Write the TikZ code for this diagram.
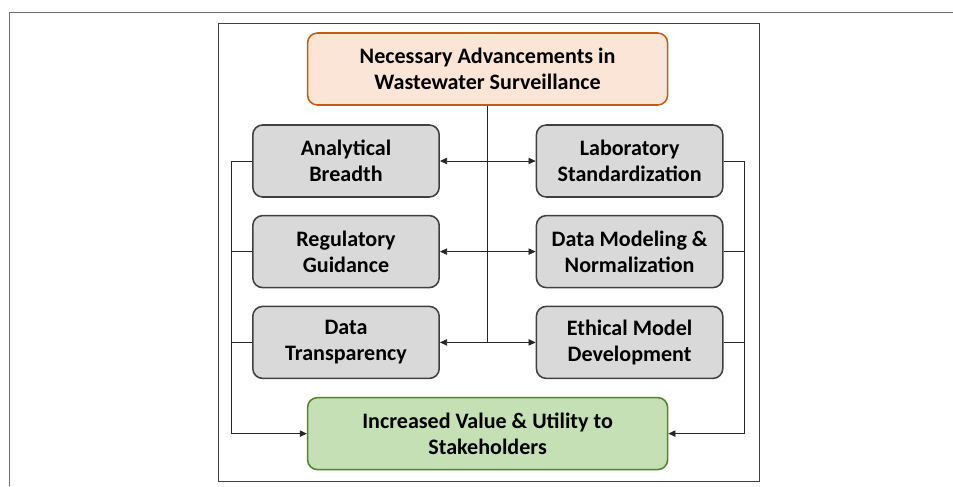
\documentclass[tikz,border=0pt]{standalone}
\usepackage{fontspec}
\setmainfont{Carlito}
\usepackage{tikz}
\usetikzlibrary{arrows.meta,positioning,calc}
\definecolor{SourceFill}{HTML}{FBE5D6}
\definecolor{SourceLine}{HTML}{C55A11}
\definecolor{TopicFill}{HTML}{D9D9D9}
\definecolor{TopicLine}{HTML}{404040}
\definecolor{GoalFill}{HTML}{C5E0B4}
\definecolor{GoalLine}{HTML}{548235}
\definecolor{FrameGray}{HTML}{6E6E6E}

\begin{document}
\begin{tikzpicture}[
    nd/.style={rectangle,rounded corners=7pt,draw=TopicLine,fill=TopicFill,line width=1.1pt,
      font=\fontsize{15.7}{18.6}\selectfont\bfseries,align=center,
      minimum width=4.66cm,minimum height=1.8cm,inner sep=2pt},
    src/.style={nd,draw=SourceLine,fill=SourceFill,minimum width=9cm},
    goal/.style={nd,draw=GoalLine,fill=GoalFill,minimum width=9cm},
    link/.style={line width=0.5pt,draw=black!85},
    >={Triangle[length=5pt,width=4.5pt]},
  ]
  \useasboundingbox (0,0) rectangle (23.825,-12.15);
  % Page frame
  \draw[FrameGray,line width=0.6pt] (23.825,-0.3125) -- (0.2375,-0.3125) -- (0.2375,-12.15);
  \draw[black!75,line width=0.7pt] (5.45,-0.5875) rectangle (18.975,-12.04);
  % Source
  \node[src] (adv) at (12.19,-1.725) {Necessary Advancements in\\Wastewater Surveillance};
  % Left column
  \node[nd] (ab) at (8.65,-4.025) {Analytical\\Breadth};
  \node[nd] (rg) at (8.65,-6.29) {Regulatory\\Guidance};
  \node[nd] (dt) at (8.65,-8.56) {Data\\Transparency};
  % Right column
  \node[nd] (lab) at (15.74,-4.025) {Laboratory\\Standardization};
  \node[nd] (dm) at (15.74,-6.29) {Data Modeling \&\\Normalization};
  \node[nd] (em) at (15.74,-8.56) {Ethical Model\\Development};
  % Goal
  \node[goal] (val) at (12.19,-10.84) {Increased Value \& Utility to\\Stakeholders};
  % Spine from source to the rows
  \coordinate (sp) at (adv.south |- dt.east);
  \draw[link] (adv.south) -- (sp);
  \draw[link,<->] (ab.east) -- (lab.west);
  \draw[link,<->] (rg.east) -- (dm.west);
  \draw[link,<->] (dt.east) -- (em.west);
  % Side rails into the goal
  \coordinate (lr) at (5.775,-4.025);
  \coordinate (rr) at (18.6,-4.025);
  \draw[link] (ab.west) -- (lr);
  \draw[link] (rg.west) -- (rg.west -| lr);
  \draw[link] (dt.west) -- (dt.west -| lr);
  \draw[link,->] (lr) |- (val.west);
  \draw[link] (lab.east) -- (rr);
  \draw[link] (dm.east) -- (dm.east -| rr);
  \draw[link] (em.east) -- (em.east -| rr);
  \draw[link,->] (rr) |- (val.east);
\end{tikzpicture}
\end{document}
